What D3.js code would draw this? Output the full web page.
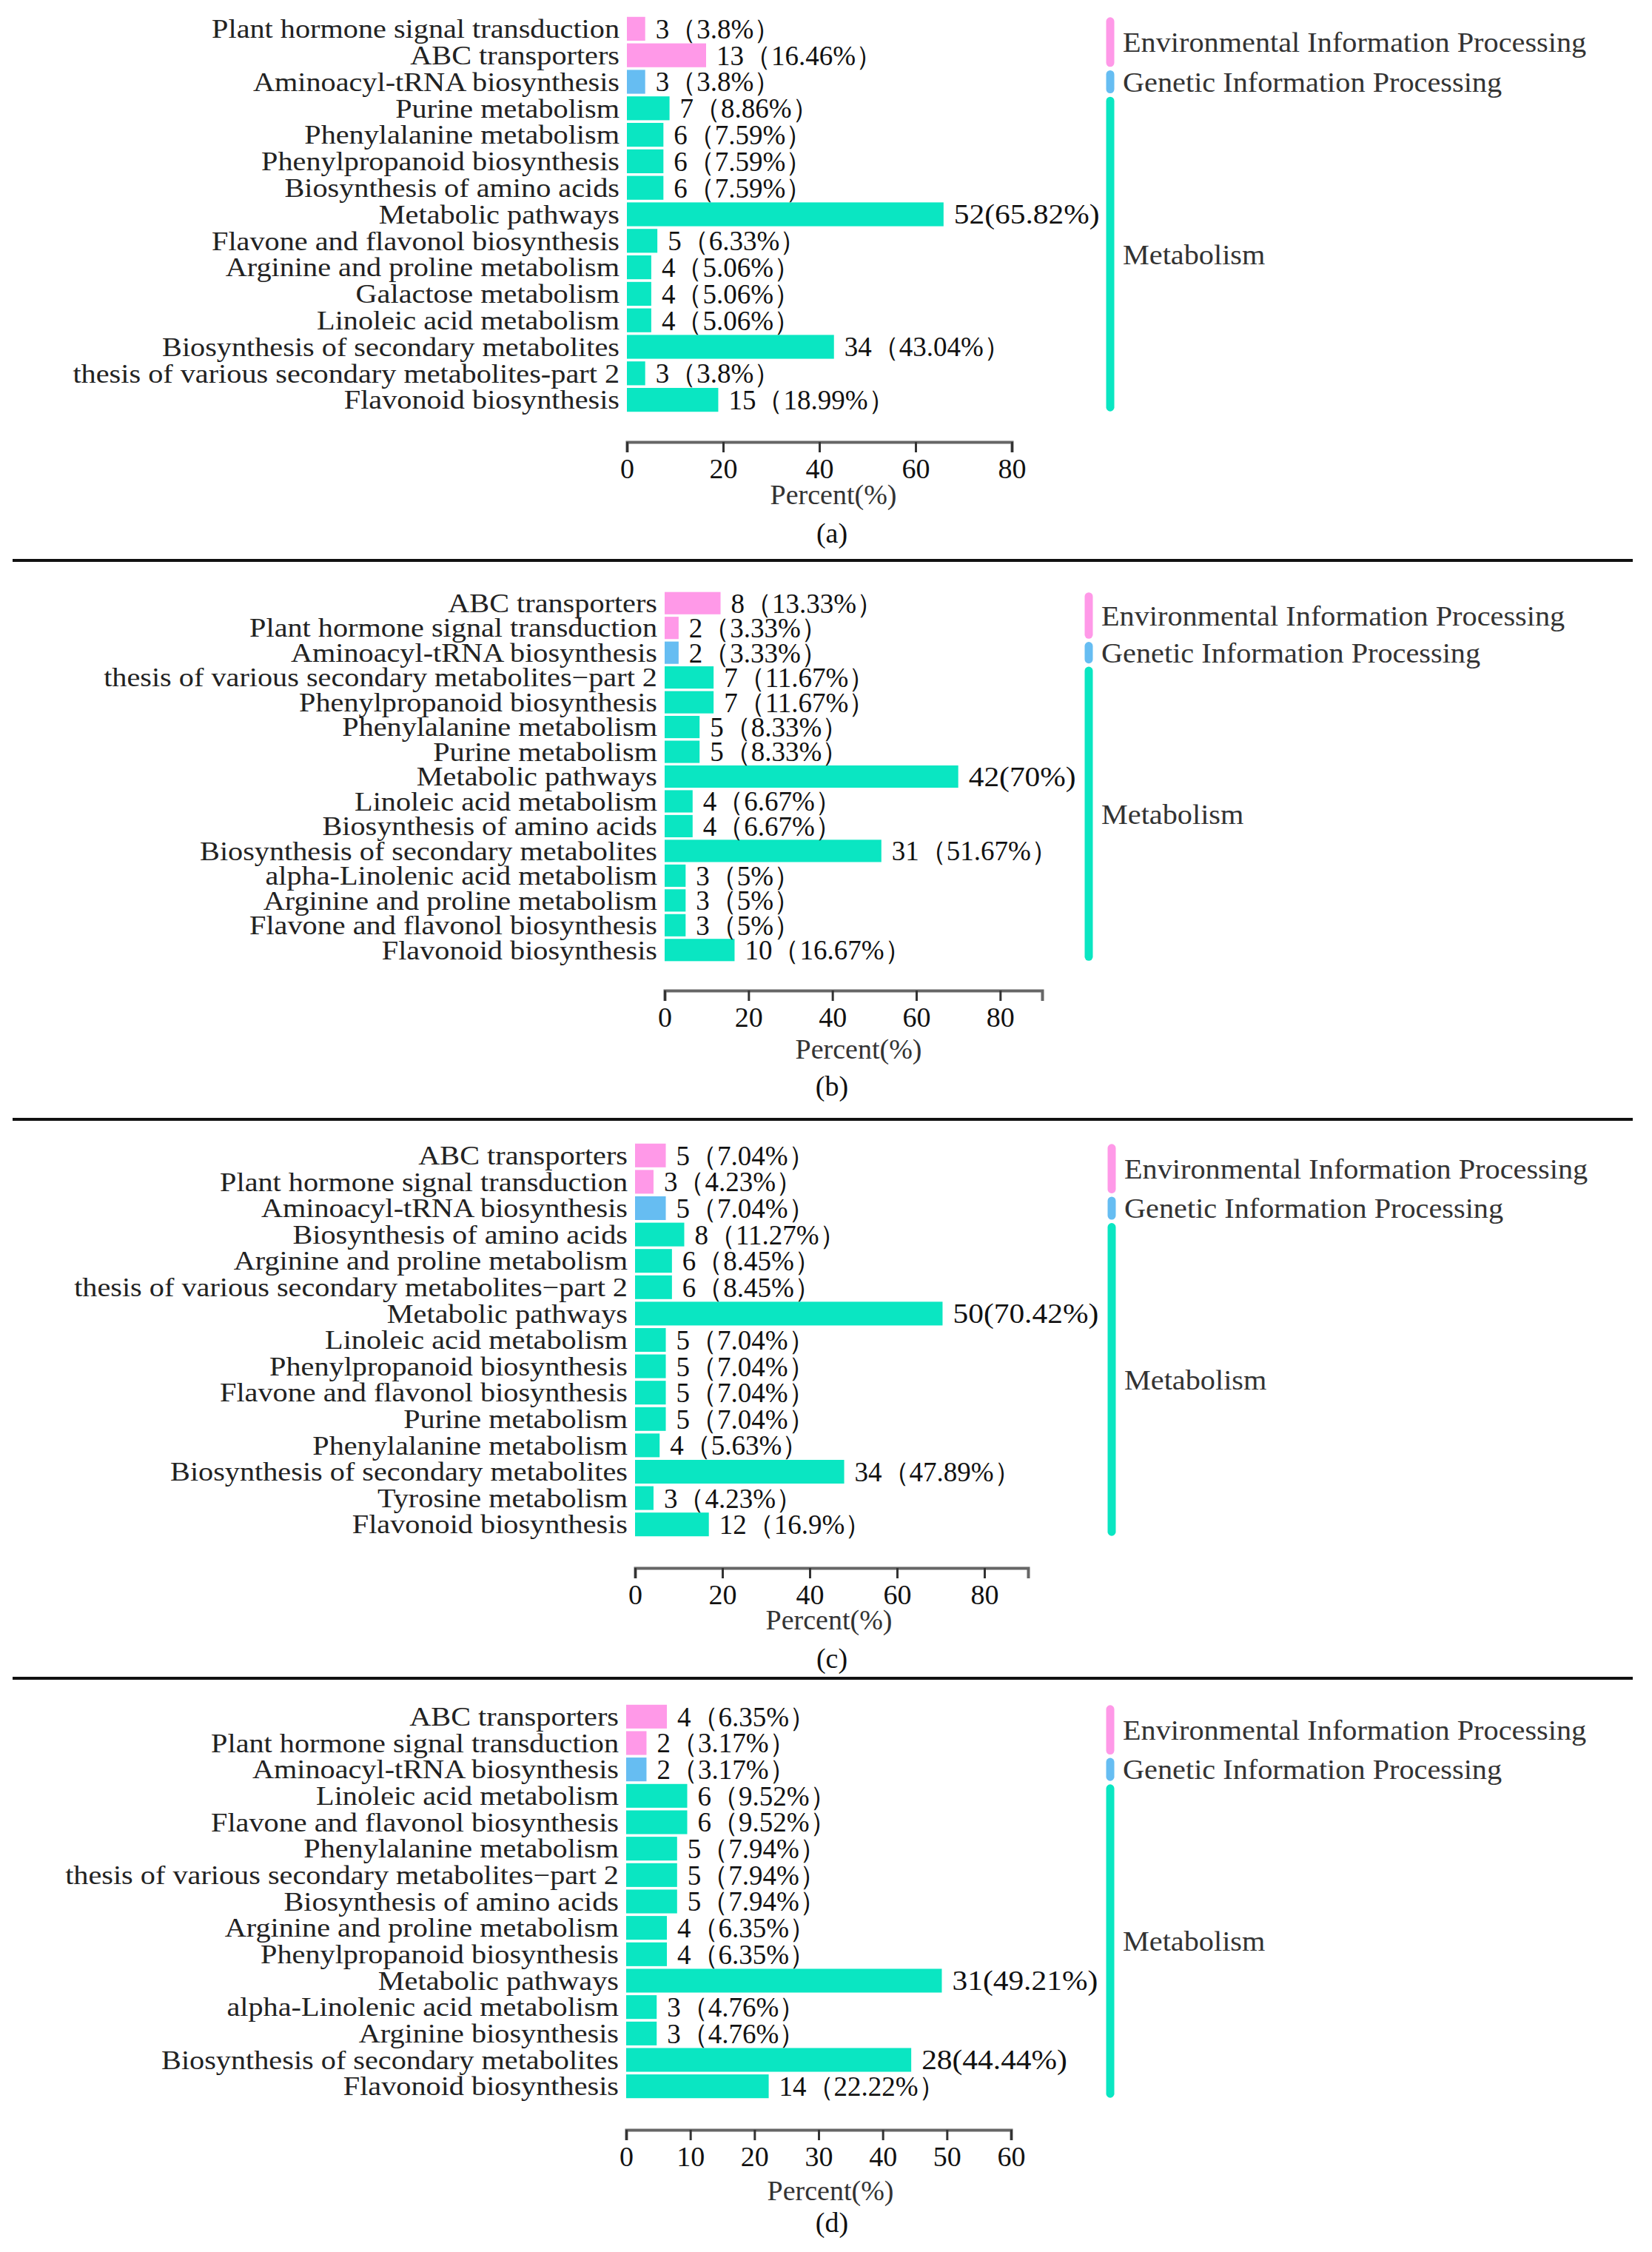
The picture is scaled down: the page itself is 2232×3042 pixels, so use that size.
<!DOCTYPE html>
<html>
  <head>
    <meta charset="utf-8">
    <title>KEGG pathway enrichment</title>
    <style>
      body { margin: 0; background: #fff; }
      svg { display: block; font-family: "Liberation Serif", "Times New Roman", serif; }
    </style>
  </head>
  <body>
    <div id="chart"></div>
    <script src="https://cdn.jsdelivr.net/npm/d3@7"></script>
    <script>
    // pathway classes (same order in every panel: 2 env, 1 genetic, rest metabolism)
    var groupNames = ["Environmental Information Processing", "Genetic Information Processing", "Metabolism"];
    var groupColors = ["#ff99e8", "#66bdf2", "#0ae6c2"];
    var rowGroups = [0, 0, 1, 2, 2, 2, 2, 2, 2, 2, 2, 2, 2, 2, 2];

    // (a)
    var catsA = ["Plant hormone signal transduction", "ABC transporters", "Aminoacyl-tRNA biosynthesis",
      "Purine metabolism", "Phenylalanine metabolism", "Phenylpropanoid biosynthesis",
      "Biosynthesis of amino acids", "Metabolic pathways", "Flavone and flavonol biosynthesis",
      "Arginine and proline metabolism", "Galactose metabolism", "Linoleic acid metabolism",
      "Biosynthesis of secondary metabolites", "thesis of various secondary metabolites-part 2",
      "Flavonoid biosynthesis"];
    var countsA = [3, 13, 3, 7, 6, 6, 6, 52, 5, 4, 4, 4, 34, 3, 15];
    var pctA = [3.8, 16.46, 3.8, 8.86, 7.59, 7.59, 7.59, 65.82, 6.33, 5.06, 5.06, 5.06, 43.04, 3.8, 18.99];
    var narrowA = [7];

    // (b)
    var catsB = ["ABC transporters", "Plant hormone signal transduction", "Aminoacyl-tRNA biosynthesis",
      "thesis of various secondary metabolites\u2212part 2", "Phenylpropanoid biosynthesis",
      "Phenylalanine metabolism", "Purine metabolism", "Metabolic pathways", "Linoleic acid metabolism",
      "Biosynthesis of amino acids", "Biosynthesis of secondary metabolites",
      "alpha-Linolenic acid metabolism", "Arginine and proline metabolism",
      "Flavone and flavonol biosynthesis", "Flavonoid biosynthesis"];
    var countsB = [8, 2, 2, 7, 7, 5, 5, 42, 4, 4, 31, 3, 3, 3, 10];
    var pctB = [13.33, 3.33, 3.33, 11.67, 11.67, 8.33, 8.33, 70, 6.67, 6.67, 51.67, 5, 5, 5, 16.67];
    var narrowB = [7];

    // (c)
    var catsC = ["ABC transporters", "Plant hormone signal transduction", "Aminoacyl-tRNA biosynthesis",
      "Biosynthesis of amino acids", "Arginine and proline metabolism",
      "thesis of various secondary metabolites\u2212part 2", "Metabolic pathways",
      "Linoleic acid metabolism", "Phenylpropanoid biosynthesis", "Flavone and flavonol biosynthesis",
      "Purine metabolism", "Phenylalanine metabolism", "Biosynthesis of secondary metabolites",
      "Tyrosine metabolism", "Flavonoid biosynthesis"];
    var countsC = [5, 3, 5, 8, 6, 6, 50, 5, 5, 5, 5, 4, 34, 3, 12];
    var pctC = [7.04, 4.23, 7.04, 11.27, 8.45, 8.45, 70.42, 7.04, 7.04, 7.04, 7.04, 5.63, 47.89, 4.23, 16.9];
    var narrowC = [6];

    // (d)
    var catsD = ["ABC transporters", "Plant hormone signal transduction", "Aminoacyl-tRNA biosynthesis",
      "Linoleic acid metabolism", "Flavone and flavonol biosynthesis", "Phenylalanine metabolism",
      "thesis of various secondary metabolites\u2212part 2", "Biosynthesis of amino acids",
      "Arginine and proline metabolism", "Phenylpropanoid biosynthesis", "Metabolic pathways",
      "alpha-Linolenic acid metabolism", "Arginine biosynthesis",
      "Biosynthesis of secondary metabolites", "Flavonoid biosynthesis"];
    var countsD = [4, 2, 2, 6, 6, 5, 5, 5, 4, 4, 31, 3, 3, 28, 14];
    var pctD = [6.35, 3.17, 3.17, 9.52, 9.52, 7.94, 7.94, 7.94, 6.35, 6.35, 49.21, 4.76, 4.76, 44.44, 22.22];
    var narrowD = [10, 13];

    var ticksA = [0, 20, 40, 60, 80];
    var ticksB = [0, 20, 40, 60, 80];
    var ticksC = [0, 20, 40, 60, 80];
    var ticksD = [0, 10, 20, 30, 40, 50, 60];

    var W = 2232, H = 3042;

    // layout of each panel (pixel positions only)
    var panels = [
      {tag: "(a)", cats: catsA, counts: countsA, pct: pctA, narrow: narrowA, ticks: ticksA, max: 80,
       x0: 847, x1: 1367, top: 21, bottom: 558, axisY: 597, titleY: 668, tagY: 720, legX: 1500, labX: 1126},
      {tag: "(b)", cats: catsB, counts: countsB, pct: pctB, narrow: narrowB, ticks: ticksB, max: 90,
       x0: 898, x1: 1408, top: 798, bottom: 1300, axisY: 1338, titleY: 1417, tagY: 1467, legX: 1471, labX: 1160},
      {tag: "(c)", cats: catsC, counts: countsC, pct: pctC, narrow: narrowC, ticks: ticksC, max: 90,
       x0: 858, x1: 1389, top: 1543, bottom: 2077, axisY: 2118, titleY: 2188, tagY: 2240, legX: 1502, labX: 1120},
      {tag: "(d)", cats: catsD, counts: countsD, pct: pctD, narrow: narrowD, ticks: ticksD, max: 60,
       x0: 846, x1: 1366, top: 2301, bottom: 2836, axisY: 2877, titleY: 2959, tagY: 3002, legX: 1500, labX: 1122}
    ];
    var separators = [757, 1512, 2267];

    var svg = d3.select("#chart").append("svg")
        .attr("width", W)
        .attr("height", H);
    svg.append("rect").attr("width", W).attr("height", H).attr("fill", "#fff");

    panels.forEach(function(p) {
      var rows = p.cats.map(function(c, i) {
        return {cat: c, count: p.counts[i], pct: p.pct[i], group: rowGroups[i], i: i};
      });

      var x = d3.scaleLinear().domain([0, p.max]).range([p.x0, p.x1]);
      var y = d3.scaleBand().domain(d3.range(rows.length)).range([p.top, p.bottom]).paddingInner(0.1).paddingOuter(0.05);
      var cy = function(d) { return y(d.i) + y.bandwidth() / 2; };

      var g = svg.append("g");

      g.selectAll(".bar").data(rows).enter().append("rect")
          .attr("class", "bar")
          .attr("x", x(0))
          .attr("y", function(d) { return y(d.i); })
          .attr("width", function(d) { return x(d.pct) - x(0); })
          .attr("height", y.bandwidth())
          .attr("fill", function(d) { return groupColors[d.group]; });

      // the original labels are set in a wide serif, so stretch horizontally
      g.selectAll(".cat").data(rows).enter().append("text")
          .attr("class", "cat")
          .attr("transform", function(d) { return "translate(" + (x(0) - 10) + "," + cy(d) + ") scale(1.15,1)"; })
          .attr("dy", "0.35em")
          .attr("text-anchor", "end")
          .attr("font-size", 35)
          .attr("fill", "#222")
          .text(function(d) { return d.cat; });

      g.selectAll(".val").data(rows).enter().append("text")
          .attr("class", "val")
          .attr("transform", function(d) {
            var s = p.narrow.indexOf(d.i) >= 0 ? 1.12 : 1;
            return "translate(" + (x(d.pct) + 14) + "," + cy(d) + ") scale(" + s + ",1)";
          })
          .attr("dy", "0.35em")
          .attr("font-size", 37)
          .attr("fill", "#111")
          .text(function(d) {
            return p.narrow.indexOf(d.i) >= 0
              ? d.count + "(" + d.pct + "%)"
              : d.count + "\uff08" + d.pct + "%\uff09";
          });

      // axis
      var axis = d3.axisBottom(x).tickValues(p.ticks).tickSizeInner(14).tickSizeOuter(14).tickPadding(8);
      var ax = g.append("g")
          .attr("transform", "translate(0," + p.axisY + ")")
          .call(axis);
      ax.select(".domain").attr("stroke", "#666").attr("stroke-width", 4);
      ax.selectAll(".tick line").attr("stroke", "#333").attr("stroke-width", 3);
      ax.selectAll(".tick text")
          .attr("font-family", "Liberation Serif, serif")
          .attr("font-size", 38)
          .attr("fill", "#111");

      g.append("text")
          .attr("x", p.labX)
          .attr("y", p.titleY)
          .attr("dy", "0.35em")
          .attr("text-anchor", "middle")
          .attr("font-size", 38)
          .attr("fill", "#333")
          .text("Percent(%)");

      g.append("text")
          .attr("x", 1124)
          .attr("y", p.tagY)
          .attr("dy", "0.35em")
          .attr("text-anchor", "middle")
          .attr("font-size", 38)
          .attr("fill", "#111")
          .text(p.tag);

      // class legend: coloured strip spanning the rows of each class
      groupNames.forEach(function(name, gi) {
        var idx = rows.filter(function(d) { return d.group === gi; }).map(function(d) { return d.i; });
        var y0 = y(d3.min(idx)) + 6, y1 = y(d3.max(idx)) + y.bandwidth() - 6;
        g.append("line")
            .attr("x1", p.legX).attr("x2", p.legX)
            .attr("y1", y0).attr("y2", y1)
            .attr("stroke", groupColors[gi])
            .attr("stroke-width", 11)
            .attr("stroke-linecap", "round");
        g.append("text")
            .attr("transform", "translate(" + (p.legX + 17) + "," + ((y0 + y1) / 2) + ") scale(1.06,1)")
            .attr("dy", "0.35em")
            .attr("font-size", 38)
            .attr("fill", "#333")
            .text(name);
      });
    });

    separators.forEach(function(sy) {
      svg.append("line")
          .attr("x1", 17).attr("x2", 2206)
          .attr("y1", sy).attr("y2", sy)
          .attr("stroke", "#111")
          .attr("stroke-width", 4);
    });
    </script>
  </body>
</html>
